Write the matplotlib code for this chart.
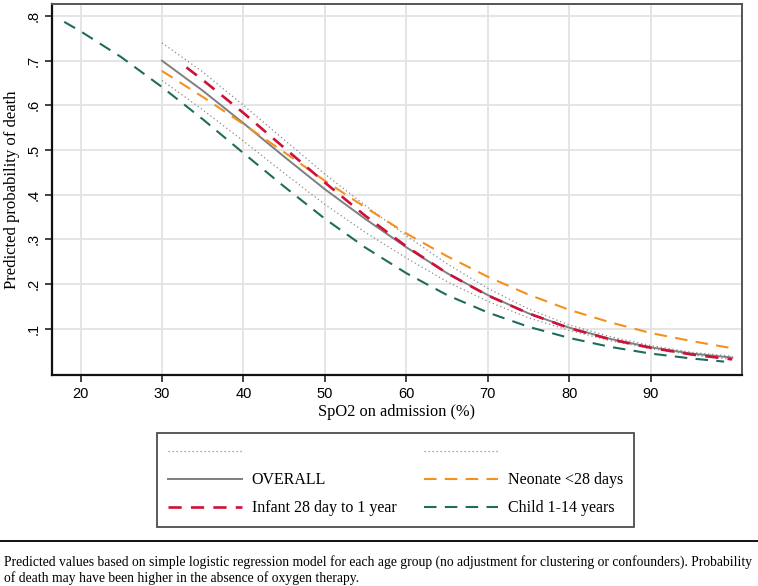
import numpy as np
import matplotlib.pyplot as plt
from matplotlib.lines import Line2D

# SpO2 grid (step 5)
spo2 = [30, 35, 40, 45, 50, 55, 60, 65, 70, 75, 80, 85, 90, 95, 100]
overall = [0.700, 0.633, 0.560, 0.485, 0.412, 0.345, 0.282, 0.224, 0.175,
           0.134, 0.102, 0.077, 0.058, 0.044, 0.035]
overall_hi = [0.740, 0.675, 0.600, 0.523, 0.446, 0.375, 0.308, 0.245, 0.190,
              0.144, 0.108, 0.082, 0.062, 0.047, 0.038]
overall_lo = [0.656, 0.590, 0.520, 0.448, 0.378, 0.315, 0.258, 0.205, 0.161,
              0.124, 0.096, 0.073, 0.055, 0.041, 0.031]
neonate = [0.677, 0.619, 0.558, 0.495, 0.431, 0.371, 0.313, 0.262, 0.216,
           0.176, 0.142, 0.114, 0.090, 0.072, 0.056]

spo2_infant = [33, 35, 40, 45, 50, 55, 60, 65, 70, 75, 80, 85, 90, 95, 100]
infant = [0.685, 0.657, 0.583, 0.505, 0.427, 0.352, 0.284, 0.224, 0.174,
          0.134, 0.101, 0.076, 0.057, 0.042, 0.031]

spo2_child = [18, 20, 25, 30, 35, 40, 45, 50, 55, 60, 65, 70, 75, 80, 85, 90, 95, 99]
child = [0.787, 0.766, 0.708, 0.641, 0.569, 0.493, 0.418, 0.346, 0.281, 0.224,
         0.175, 0.136, 0.104, 0.079, 0.059, 0.044, 0.033, 0.026]

xticks = [20, 30, 40, 50, 60, 70, 80, 90]
yticks = [0.1, 0.2, 0.3, 0.4, 0.5, 0.6, 0.7, 0.8]
ytick_labels = ['.1', '.2', '.3', '.4', '.5', '.6', '.7', '.8']

c_gray = '#7f7f7f'
c_red = '#d01038'
c_orange = '#f5901e'
c_teal = '#1f6b5e'

serif = 'Liberation Serif'
sans = 'Liberation Sans'

fig = plt.figure(figsize=(7.58, 5.86), dpi=100)
ax = fig.add_axes([52 / 758, 1 - 375 / 586, 690 / 758, 371 / 586])

dot_style = dict(color='#8a8a8a', lw=0.9, linestyle=(0, (1, 2.2)))
l_hi, = ax.plot(spo2, overall_hi, **dot_style)
ax.plot(spo2, overall_lo, **dot_style)
l_all, = ax.plot(spo2, overall, color=c_gray, lw=1.4)
l_neo, = ax.plot(spo2, neonate, color=c_orange, lw=1.5, linestyle=(0, (6, 4)))
l_inf, = ax.plot(spo2_infant, infant, color=c_red, lw=1.9, linestyle=(0, (5, 3.5)))
l_chi, = ax.plot(spo2_child, child, color=c_teal, lw=1.5, linestyle=(0, (6, 4)))

ax.set_xlim(16.5, 101.2)
ax.set_ylim(-0.004, 0.827)
ax.set_xticks(xticks)
ax.set_yticks(yticks)
ax.set_yticklabels(ytick_labels, rotation=90, va='center')
for lab in ax.get_xticklabels() + ax.get_yticklabels():
    lab.set_fontfamily(sans)
    lab.set_fontsize(10.5)
ax.tick_params(axis='both', direction='out', length=5, width=1.2, color='#222222')
ax.tick_params(axis='y', pad=3)
ax.tick_params(axis='x', pad=4)
ax.grid(True, color='#e3e3e3', lw=1.3)
ax.set_axisbelow(True)

for side in ['left', 'bottom']:
    ax.spines[side].set_linewidth(1.6)
    ax.spines[side].set_color('#111111')
for side in ['top', 'right']:
    ax.spines[side].set_linewidth(1.4)
    ax.spines[side].set_color('#555555')

ax.set_xlabel('SpO2 on admission (%)', fontfamily=serif, fontsize=11.8, labelpad=2)
ax.set_ylabel('Predicted probability of death', fontfamily=serif, fontsize=12, labelpad=5)

dot_handle = Line2D([], [], **dot_style)
handles = [dot_handle, l_all, l_inf, dot_handle, l_neo, l_chi]
labels = ['', 'OVERALL', 'Infant 28 day to 1 year', '', 'Neonate <28 days', 'Child 1-14 years']
leg = fig.legend(handles, labels, ncol=2, loc='upper left',
                 bbox_to_anchor=(157 / 758, 1 - 433 / 586),
                 prop={'family': serif, 'size': 11.5},
                 frameon=True, fancybox=False, edgecolor='#222222',
                 handlelength=4.6, handletextpad=0.62, columnspacing=1.75,
                 labelspacing=0.75, borderpad=0.7, borderaxespad=0)
leg.get_frame().set_linewidth(1.3)

fig.add_artist(Line2D([0, 1], [1 - 541 / 586, 1 - 541 / 586],
                      transform=fig.transFigure, color='#111111', lw=1.4))

fig.text(4 / 758, 1 - 562 / 586,
         'Predicted values based on simple logistic regression model for each age group '
         '(no adjustment for clustering or confounders). Probability',
         fontfamily=serif, fontsize=9.85, va='center', ha='left')
fig.text(4 / 758, 1 - 578 / 586,
         'of death may have been higher in the absence of oxygen therapy.',
         fontfamily=serif, fontsize=9.85, va='center', ha='left')

fig.savefig('out.png', dpi=100)
